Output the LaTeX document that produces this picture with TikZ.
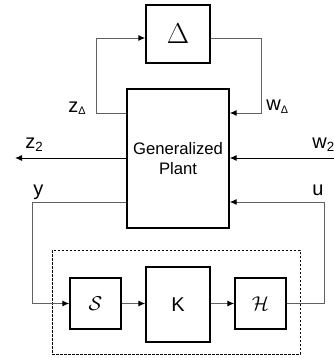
\documentclass[tikz,border=0pt]{standalone}
\usepackage{fontspec}
\setmainfont{Liberation Sans}
\usetikzlibrary{arrows.meta}

\begin{document}
\begin{tikzpicture}[
    x=0.6pt, y=-0.6pt, % une unité = un pixel de la référence
    bloc/.style={draw=black, line width=0.85pt, fill=white, inner sep=0pt},
    fil/.style={draw=black!62, line width=0.6pt},
    fleche/.style={fil, -{Latex[length=4.2pt, width=3.6pt, color=black]}},
    etiq/.style={font=\fontsize{12}{14}\selectfont, inner sep=0pt, anchor=base west}
]
\useasboundingbox (0,0) rectangle (334,358);
% Cadre du correcteur
\node (cadre) [draw, dash pattern=on 1.5pt off 0.9pt, line width=0.6pt,
    minimum width=148.8pt, minimum height=62.4pt] at (176,302) {};
% Blocs
\node (Delta) [bloc, minimum width=38.4pt, minimum height=34.8pt,
    font=\fontsize{16.5}{19}\selectfont] at (178,34) {$\Delta$};
\node (plant) [bloc, minimum width=61.2pt, minimum height=83.4pt, align=center,
    font=\fontsize{10}{12}\selectfont] at (178,158.5) {Generalized\\Plant};
\node (S) [bloc, minimum size=30.6pt, font=\fontsize{12}{14}\selectfont]
    at (95.5,303.5) {$\mathcal{S}$};
\node (K) [bloc, minimum width=38.4pt, minimum height=45pt,
    font=\fontsize{12}{14}\selectfont] at (178,304.5) {K};
\node (H) [bloc, minimum size=30.6pt, font=\fontsize{12}{14}\selectfont]
    at (260.5,303.5) {$\mathcal{H}$};
% Points de coude
\coordinate (zD) at (96,113);
\coordinate (dL) at (96,38);
\coordinate (dR) at (261,38);
\coordinate (wD) at (261,113);
\coordinate (z2) at (15,158);
\coordinate (w2) at (334,158);
\coordinate (yb) at (32,202);
\coordinate (ub) at (324,202);
% Boucle incertaine
\draw[fleche] (zD -| plant.west) -- (zD) -- (dL) -- (dL -| Delta.west);
\draw[fleche] (dR -| Delta.east) -- (dR) -- (wD) -- (wD -| plant.east);
% Entrée et sortie de performance
\draw[fleche, draw=black] (z2 -| plant.west) -- (z2);
\draw[fleche, draw=black] (w2) -- (w2 -| plant.east);
% Boucle de commande
\draw[fleche] (yb -| plant.west) -- (yb) |- (S.west);
\draw[fleche] (S.east) -- (S.east -| K.west);
\draw[fleche] (K.east |- H.west) -- (H.west);
\draw[fleche] (H.east) -| (ub) -- (ub -| plant.east);
% Étiquettes
\node (lzD) [etiq] at (68,112) {z\textsubscript{\fontsize{6.5}{7}\selectfont Δ}};
\node (lwD) [etiq] at (266,110) {w\textsubscript{\fontsize{6.5}{7}\selectfont Δ}};
\node (lz2) [etiq] at (25,148) {z\textsubscript{2}};
\node (lw2) [etiq] at (312,148) {w\textsubscript{2}};
\node (ly) [etiq] at (33,195) {y};
\node (lu) [etiq] at (312,195) {u};
\end{tikzpicture}
\end{document}
